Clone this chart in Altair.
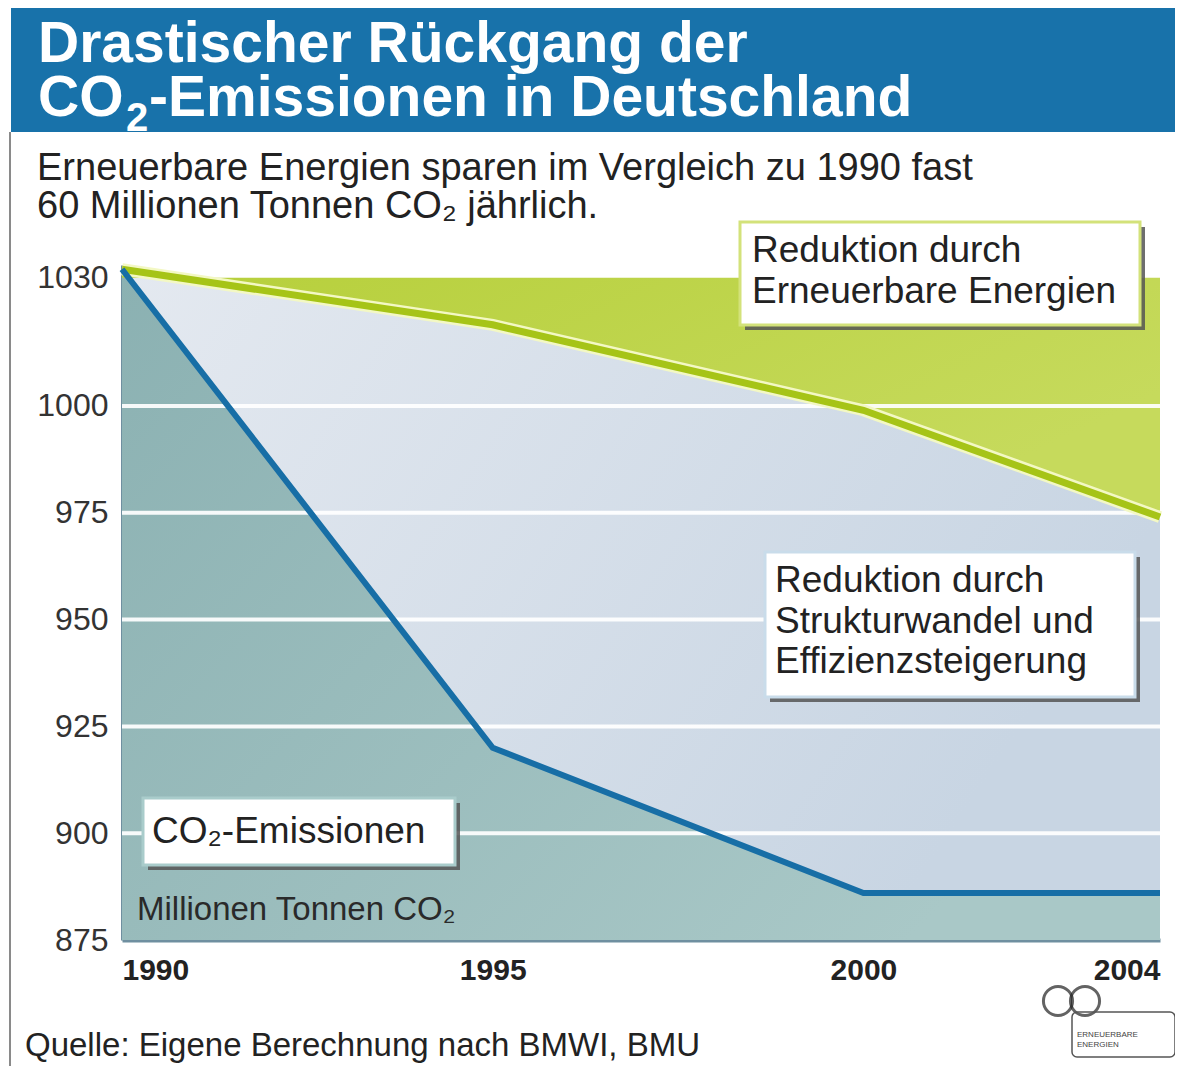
import altair as alt
import pandas as pd

# ---- data ----
years = [1990, 1995, 2000, 2004]
emissions = [1032, 920, 886, 886]            # CO2-Emissionen (Mio. t)
without_renewables = [1032, 1019, 999, 974]  # Emissionen ohne Erneuerbare Energien
top_level = 1030
bottom_level = 875
grid_values = [900, 925, 950, 975, 1000]
y_ticks = [875, 900, 925, 950, 975, 1000, 1030]
x_ticks = [1990, 1995, 2000, 2004]

df = pd.DataFrame({
    "year": years,
    "emissions": emissions,
    "ohne_ee": without_renewables,
    "top": [top_level] * len(years),
    "bottom": [bottom_level] * len(years),
})
grid_df = pd.DataFrame({"g": grid_values})

W, H = 1038, 675
FONT = "Liberation Sans"
xs = alt.Scale(domain=[1990, 2004], nice=False, zero=False)
ys = alt.Scale(domain=[875, 1033], nice=False, zero=False)

x_axis = alt.Axis(values=x_ticks, format="d", labelFontSize=30, labelFontWeight="bold",
                  labelColor="#222222", labelFont=FONT, labelPadding=15, ticks=False,
                  grid=False, domainColor="#6f8fa0", domainWidth=4, title=None)
y_axis = alt.Axis(values=y_ticks, format="d", labelFontSize=32, labelColor="#333333",
                  labelFont=FONT, labelPadding=14, ticks=False, grid=False,
                  domainColor="#6f8fa0", domainWidth=3, title=None)


def X():
    return alt.X("year:Q", scale=xs, axis=x_axis)


def Y(field):
    return alt.Y(field, type="quantitative", scale=ys, axis=y_axis)


def grad(c1, c2, x2=1, y2=0):
    return alt.Gradient(gradient="linear",
                        stops=[alt.GradientStop(color=c1, offset=0),
                               alt.GradientStop(color=c2, offset=1)],
                        x1=0, y1=0, x2=x2, y2=y2)


base = alt.Chart(df)

teal = base.mark_area(color=grad("#8bb1b2", "#a9c8c7", 1, 0.6)).encode(
    x=X(), y=Y("emissions"), y2=alt.Y2("bottom"))
middle = base.mark_area(color=grad("#e4e9f0", "#c8d5e3", 1, 0.4)).encode(
    x=X(), y=Y("ohne_ee"), y2=alt.Y2("emissions"))
green = base.mark_area(color=grad("#b6cf3a", "#c6da5c", 1, 0.5)).encode(
    x=X(), y=Y("top"), y2=alt.Y2("ohne_ee"))

grid = alt.Chart(grid_df).mark_rule(color="white", strokeWidth=4, opacity=0.92).encode(
    y=alt.Y("g:Q", scale=ys, axis=y_axis))

green_halo = base.mark_line(color="#f3f8c4", strokeWidth=12).encode(x=X(), y=Y("ohne_ee"))
green_line = base.mark_line(color="#a6c417", strokeWidth=7).encode(x=X(), y=Y("ohne_ee"))
blue_line = base.mark_line(color="#176ea6", strokeWidth=6).encode(x=X(), y=Y("emissions"))

one = alt.Data(values=[{}])


def box(x0, y0, x1, y1, stroke):
    shadow = alt.Chart(one).mark_rect(color="#555555", opacity=0.85).encode(
        x=alt.value(x0 + 5), x2=alt.value(x1 + 5), y=alt.value(y0 + 5), y2=alt.value(y1 + 5))
    face = alt.Chart(one).mark_rect(fill="white", stroke=stroke, strokeWidth=3).encode(
        x=alt.value(x0), x2=alt.value(x1), y=alt.value(y0), y2=alt.value(y1))
    return [shadow, face]


def txt(s, x, y, size, color="#222222", weight="normal", font=FONT, align="left"):
    return alt.Chart(one).mark_text(text=s, align=align, baseline="alphabetic", font=font,
                                    fontSize=size, fontWeight=weight, color=color).encode(
        x=alt.value(x), y=alt.value(y))


layers = [teal, middle, green, grid, green_halo, green_line, blue_line]

# header banner
layers.append(alt.Chart(one).mark_rect(color="#1872aa").encode(
    x=alt.value(-111), x2=alt.value(1053), y=alt.value(-257), y2=alt.value(-133)))
layers.append(alt.Chart(one).mark_rule(color="#8a8a8a", strokeWidth=2).encode(
    x=alt.value(-112), y=alt.value(-133), y2=alt.value(801)))
layers.append(txt("Drastischer Rückgang der", -84, -203, 57, "white", "bold"))
layers.append(txt("CO", -84, -149, 57, "white", "bold"))
layers.append(txt("2", 4, -134, 40, "white", "bold"))
layers.append(txt("-Emissionen in Deutschland", 27, -149, 57, "white", "bold"))

# subtitle
layers.append(txt("Erneuerbare Energien sparen im Vergleich zu 1990 fast", -85, -85, 38))
layers.append(txt("60 Millionen Tonnen CO₂ jährlich.", -85, -47, 38))

# annotation boxes
layers += box(618, -43, 1018, 60, "#d3e27a")
layers.append(txt("Reduktion durch", 630, -3, 37))
layers.append(txt("Erneuerbare Energien", 630, 38, 37))

layers += box(643, 287, 1013, 432, "#c9dcea")
layers.append(txt("Reduktion durch", 653, 327, 37))
layers.append(txt("Strukturwandel und", 653, 368, 37))
layers.append(txt("Effizienzsteigerung", 653, 408, 37))

layers += box(21, 533, 333, 600, "#a9cccb")
layers.append(txt("CO₂-Emissionen", 30, 578, 37))

layers.append(txt("Millionen Tonnen CO₂", 15, 655, 33, "#2a2a2a"))

# footer
layers.append(txt("Quelle: Eigene Berechnung nach BMWI, BMU", -97, 791, 33))

# logo
layers.append(alt.Chart(one).mark_point(shape="circle", filled=False, size=850, strokeWidth=3,
                                        color="#222222").encode(x=alt.value(936), y=alt.value(736)))
layers.append(alt.Chart(one).mark_point(shape="circle", filled=False, size=850, strokeWidth=3,
                                        color="#222222").encode(x=alt.value(963), y=alt.value(736)))
layers.append(alt.Chart(one).mark_rect(fill="white", stroke="#555555", strokeWidth=1.5,
                                       cornerRadius=5, fillOpacity=0).encode(
    x=alt.value(950), x2=alt.value(1053), y=alt.value(747), y2=alt.value(792)))
layers.append(txt("ERNEUERBARE", 955, 772, 8, "#444444"))
layers.append(txt("ENERGIEN", 955, 782, 8, "#444444"))

chart = alt.layer(*layers).properties(
    width=W, height=H,
    padding={"left": 114, "top": 257, "right": 15, "bottom": 126},
    autosize=alt.AutoSizeParams(type="none"),
).configure_view(stroke=None)

chart.save("out.html", embed_options={"renderer": "svg", "actions": False})
